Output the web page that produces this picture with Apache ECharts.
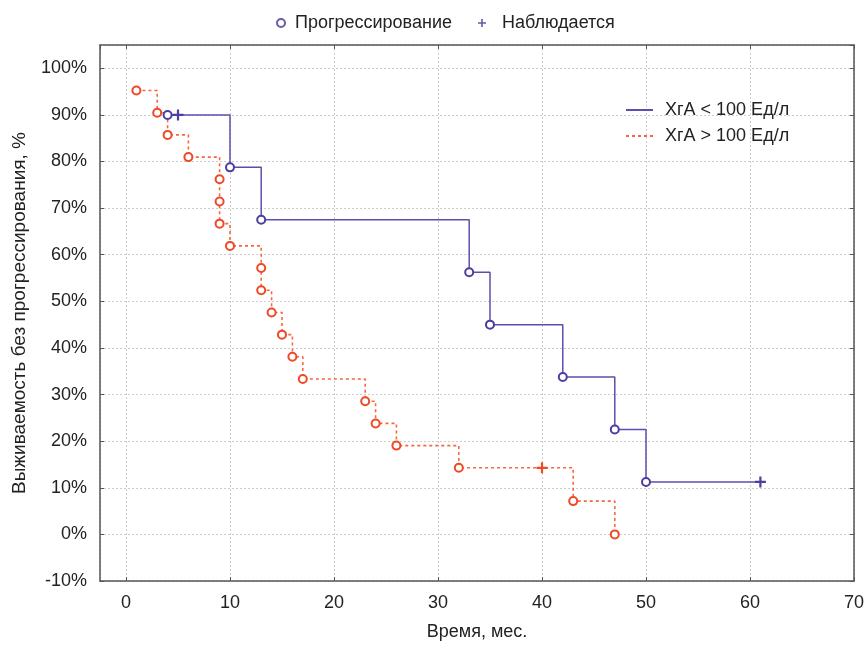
<!DOCTYPE html>
<html>
<head>
<meta charset="utf-8">
<script src="https://cdn.jsdelivr.net/npm/echarts@6/dist/echarts.min.js"></script>
<style>
  html, body { margin: 0; padding: 0; background: #fff; }
  #chart { width: 867px; height: 646px; }
</style>
</head>
<body>
<div id="chart"></div>
<script>
// ХгА < 100 Ед/л
var lowTime = [4, 5, 10, 13, 33, 35, 42, 47, 50, 61];
var lowSurv = [90, 90, 78.75, 67.5, 56.25, 45, 33.75, 22.5, 11.25, 11.25];
var lowCensored = [0, 1, 0, 0, 0, 0, 0, 0, 0, 1];

// ХгА > 100 Ед/л
var highTime = [1, 3, 4, 6, 9, 9, 9, 10, 13, 13, 14, 15, 16, 17, 23, 24, 26, 32, 40, 43, 47];
var highSurv = [95.24, 90.48, 85.71, 80.95, 76.19, 71.43, 66.67, 61.9, 57.14, 52.38, 47.62,
  42.86, 38.1, 33.33, 28.57, 23.81, 19.05, 14.29, 14.29, 7.14, 0];
var highCensored = [0, 0, 0, 0, 0, 0, 0, 0, 0, 0, 0, 0, 0, 0, 0, 0, 0, 0, 1, 0, 0];

var PLUS = 'path://M4,0H6V10H4Z M0,4H10V6H0Z';
var FONT = '"Liberation Sans", Arial, sans-serif';
var BLUE = '#4a3f9e';
var RED = '#ee4a26';
var FRAME = '#555555';

function buildData(times, surv, cens, color) {
  var out = [];
  for (var i = 0; i < times.length; i++) {
    if (cens[i]) {
      out.push({ value: [times[i], surv[i]], symbol: PLUS, symbolSize: 11,
        itemStyle: { color: color, borderWidth: 0 } });
    } else {
      out.push({ value: [times[i], surv[i]] });
    }
  }
  return out;
}

var myChart = echarts.init(document.getElementById('chart'));

var tick = { show: true, inside: true, length: 4, lineStyle: { color: FRAME, width: 1 } };
var frameLine = { show: true, onZero: false, lineStyle: { color: FRAME, width: 1.5 } };
var split = { show: true, lineStyle: { color: '#cccccc', width: 1, type: [2, 2] } };

var option = {
  animation: false,
  backgroundColor: '#fff',
  textStyle: { fontFamily: FONT },
  grid: { left: 100, right: 7, top: 45, bottom: 61 },
  legend: [
    {
      data: ['Прогрессирование', { name: 'Наблюдается', textStyle: { padding: [0, 0, 0, 11] } }],
      left: 271, top: 9,
      itemWidth: 8, itemHeight: 8, itemGap: 26,
      textStyle: { fontSize: 18, color: '#222', fontFamily: FONT, padding: [0, 0, 0, 5] }
    },
    {
      data: ['ХгА < 100 Ед/л', 'ХгА > 100 Ед/л'],
      orient: 'vertical',
      left: 620, top: 96,
      itemWidth: 27, itemHeight: 14, itemGap: 8,
      itemStyle: { opacity: 0 },
      textStyle: { fontSize: 18, color: '#222', fontFamily: FONT, padding: [0, 0, 0, 7] }
    }
  ],
  xAxis: [
    {
      type: 'value', min: -2.5, max: 70, minInterval: 10, maxInterval: 10,
      position: 'bottom',
      name: 'Время, мес.', nameLocation: 'middle', nameGap: 42,
      nameTextStyle: { fontSize: 18, color: '#222', fontFamily: FONT },
      axisLine: frameLine, axisTick: tick, splitLine: split,
      axisLabel: { showMinLabel: false, fontSize: 18, color: '#222', margin: 13, fontFamily: FONT }
    },
    {
      type: 'value', min: -2.5, max: 70, minInterval: 10, maxInterval: 10,
      position: 'top',
      axisLine: frameLine, axisTick: tick, splitLine: { show: false },
      axisLabel: { show: false }
    }
  ],
  yAxis: [
    {
      type: 'value', min: -10, max: 105, interval: 10,
      position: 'left',
      name: 'Выживаемость без прогрессирования, %', nameLocation: 'middle', nameGap: 71,
      nameTextStyle: { fontSize: 19, color: '#222', fontFamily: FONT },
      axisLine: frameLine, axisTick: tick, splitLine: split,
      axisLabel: { showMaxLabel: false, fontSize: 18, color: '#222', margin: 13,
        fontFamily: FONT, formatter: '{value}%' }
    },
    {
      type: 'value', min: -10, max: 105, interval: 10,
      position: 'right',
      axisLine: frameLine, axisTick: tick, splitLine: { show: false },
      axisLabel: { show: false }
    }
  ],
  series: [
    {
      name: 'ХгА > 100 Ед/л',
      type: 'line',
      step: 'end',
      data: buildData(highTime, highSurv, highCensored, RED),
      symbol: 'emptyCircle',
      symbolSize: 8,
      color: RED,
      lineStyle: { color: '#f4673f', width: 1.6, type: [3, 3] },
      itemStyle: { color: RED },
      z: 2
    },
    {
      name: 'ХгА < 100 Ед/л',
      type: 'line',
      step: 'end',
      data: buildData(lowTime, lowSurv, lowCensored, BLUE),
      symbol: 'emptyCircle',
      symbolSize: 8,
      color: BLUE,
      lineStyle: { color: '#5a4fae', width: 1.5 },
      itemStyle: { color: BLUE },
      z: 3
    },
    {
      name: 'Прогрессирование',
      type: 'scatter',
      data: [],
      symbol: 'emptyCircle',
      color: '#3d3494'
    },
    {
      name: 'Наблюдается',
      type: 'scatter',
      data: [],
      symbol: PLUS,
      color: '#3d3494'
    }
  ]
};

myChart.setOption(option);
</script>
</body>
</html>
